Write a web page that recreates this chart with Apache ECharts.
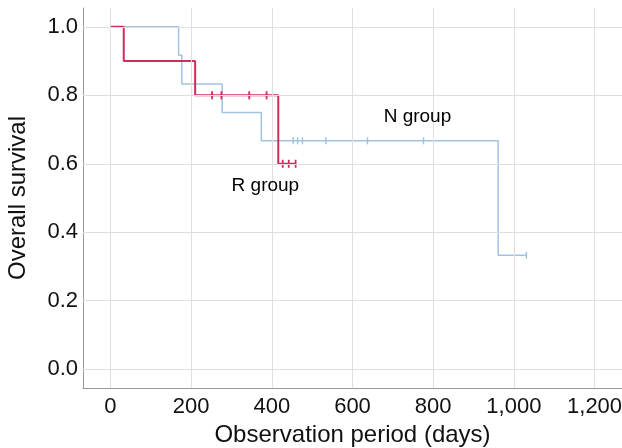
<!DOCTYPE html>
<html><head><meta charset="utf-8">
<script src="https://cdn.jsdelivr.net/npm/echarts@6/dist/echarts.min.js"></script>
<style>html,body{margin:0;padding:0;background:#fff}#c{width:622px;height:448px}</style>
</head><body><div id="c"></div>
<script>
var xTicks = [0, 200, 400, 600, 800, 1000, 1200];
var yTicks = [0, 0.2, 0.4, 0.6, 0.8, 1.0];
var rTimes = [0, 33, 210, 416, 460];
var rSurv = [1.0, 0.9, 0.8, 0.6, 0.6];
var rCensorT = [252, 275, 344, 387, 427, 442, 459];
var rCensorS = [0.8, 0.8, 0.8, 0.8, 0.6, 0.6, 0.6];
var nTimes = [0, 169, 177, 277, 374, 961, 1031];
var nSurv = [1.0, 0.917, 0.833, 0.75, 0.667, 0.333, 0.333];
var nCensorT = [453, 464, 476, 534, 637, 776, 1031];
var nCensorS = [0.667, 0.667, 0.667, 0.667, 0.667, 0.667, 0.333];
var groupNames = ['N group', 'R group'];
var groupLabelPos = [[761, 0.737], [384, 0.535]];

function zip(a, b) { return a.map(function (v, i) { return [v, b[i]]; }); }
var redC = '#cc2f5c', blueC = '#a2c2e2';
var font = '"Liberation Sans", Arial, sans-serif';

var chart = echarts.init(document.getElementById('c'), null, {renderer: 'canvas'});
chart.setOption({
  animation: false,
  backgroundColor: '#fff',
  grid: {left: 83, right: 0, top: 8, bottom: 60, outerBoundsMode: 'none', containLabel: false},
  xAxis: {
    type: 'value', min: -68, max: 1268,
    name: 'Observation period (days)', nameLocation: 'middle', nameGap: 35, nameMoveOverlap: false,
    nameTextStyle: {fontFamily: font, fontSize: 24, color: '#111'},
    axisLine: {show: true, onZero: false, lineStyle: {color: '#9a9a9a', width: 1}},
    axisTick: {show: false, customValues: xTicks},
    axisLabel: {customValues: xTicks, fontFamily: font, fontSize: 22, color: '#111', margin: 8,
      formatter: function (v) { return v.toLocaleString('en-US'); }},
    splitLine: {show: false}
  },
  yAxis: {
    type: 'value', min: -0.055, max: 1.055,
    name: 'Overall survival', nameLocation: 'middle', nameGap: 53, nameMoveOverlap: false,
    nameTextStyle: {fontFamily: font, fontSize: 24, color: '#111'},
    axisLine: {show: true, onZero: false, lineStyle: {color: '#9a9a9a', width: 1}},
    axisTick: {show: false, customValues: yTicks},
    axisLabel: {customValues: yTicks, fontFamily: font, fontSize: 22, color: '#111', margin: 5,
      formatter: function (v) { return v.toFixed(1); }},
    splitLine: {show: false}
  },
  series: [
    {
      type: 'line', data: [], silent: true,
      markLine: {
        silent: true, symbol: 'none', label: {show: false},
        lineStyle: {color: '#e3dede', width: 1, type: 'solid'},
        data: xTicks.map(function (v) { return {xAxis: v}; }).concat(yTicks.map(function (v) { return {yAxis: v}; }))
      }
    },
    {type: 'line', step: 'end', data: zip(nTimes, nSurv), showSymbol: false,
      lineStyle: {color: blueC, width: 1.5}, z: 3},
    {type: 'scatter', data: zip(nCensorT, nCensorS), symbol: 'rect', symbolSize: [1.5, 7],
      itemStyle: {color: blueC, opacity: 1}, z: 3},
    {type: 'line', step: 'end', data: zip(rTimes, rSurv), showSymbol: false,
      lineStyle: {color: redC, width: 2}, z: 4},
    {type: 'scatter', data: zip(rCensorT, rCensorS), symbol: 'rect', symbolSize: [1.8, 8],
      itemStyle: {color: redC, opacity: 1}, z: 4},
    {type: 'scatter', symbolSize: 0, z: 5, silent: true, itemStyle: {opacity: 1},
      data: groupLabelPos.map(function (p, i) { return {value: p, name: groupNames[i]}; }),
      label: {show: true, position: 'inside', formatter: '{b}', fontFamily: font, fontSize: 19, color: '#000', opacity: 1}}
  ]
});
</script>
</body></html>
